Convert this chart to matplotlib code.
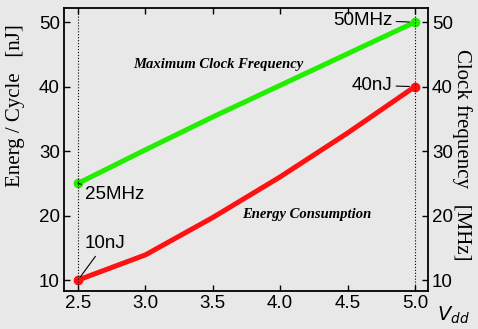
import numpy as np
import matplotlib.pyplot as plt

vdd = [2.5, 3.0, 3.5, 4.0, 4.5, 5.0]
energy = [10, 13.9, 19.7, 26.0, 32.8, 40]     # nJ
freq = [25, 30.2, 35.3, 40.2, 45.1, 50]       # MHz
xticks = [2.5, 3.0, 3.5, 4.0, 4.5, 5.0]
yticks = [10, 20, 30, 40, 50]

bg = '#e8e8e8'
plt.rcParams['font.family'] = ['Liberation Sans', 'DejaVu Sans']

fig = plt.figure(figsize=(4.78, 3.29), dpi=100, facecolor=bg)
ax = fig.add_axes([0.134, 0.1155, 0.761, 0.8602], facecolor=bg)

ax.plot(vdd, freq, color='#22ee00', lw=3.6, solid_capstyle='round')
ax.plot(vdd, energy, color='#ff1111', lw=3.6, solid_capstyle='round')
ax.plot([vdd[0], vdd[-1]], [freq[0], freq[-1]], 'o', color='#22ee00', ms=6)
ax.plot([vdd[0], vdd[-1]], [energy[0], energy[-1]], 'o', color='#ff1111', ms=6)

for xv in (vdd[0], vdd[-1]):
    ax.axvline(xv, color='black', lw=0.8, ls=':')

ax.set_xlim(2.396, 5.096)
ax.set_ylim(8.3, 52.2)
ax.set_xticks(xticks)
ax.set_xticklabels([f'{v:.1f}' for v in xticks])
ax.set_yticks(yticks)
ax.tick_params(direction='in', length=4, width=1, labelsize=13.5,
               top=True, right=True, labelright=True, pad=3)
for s in ax.spines.values():
    s.set_linewidth(1.3)

fig.text(0.032, 0.68, 'Energ / Cycle   [nJ]', family='Liberation Serif', fontsize=15,
         rotation=90, ha='center', va='center')
fig.text(0.967, 0.53, 'Clock frequency   [MHz]', family='Liberation Serif', fontsize=15,
         rotation=-90, ha='center', va='center')

fig.text(0.915, 0.025, r'$V_{dd}$', fontsize=14)

ann = dict(fontsize=13.5)
line = dict(arrowstyle='-', lw=0.8, color='black', shrinkA=1, shrinkB=4)
ax.annotate('50MHz', xy=(vdd[-1], freq[-1]), xytext=(4.83, 50.3), ha='right', va='center',
            arrowprops=line, **ann)
ax.annotate('40nJ', xy=(vdd[-1], energy[-1]), xytext=(4.83, 40.2), ha='right', va='center',
            arrowprops=line, **ann)
ax.annotate('25MHz', xy=(vdd[0], freq[0]), xytext=(2.555, 23.3), ha='left', va='center',
            arrowprops=dict(line, shrinkB=3), **ann)
ax.annotate('10nJ', xy=(vdd[0], energy[0]), xytext=(2.545, 15.6), ha='left', va='center',
            arrowprops=dict(line, shrinkB=3), **ann)

ax.text(3.54, 43.5, 'Maximum Clock Frequency', family='Liberation Serif', style='italic',
        weight='bold', fontsize=10.5, ha='center', va='center')
ax.text(4.20, 20.2, 'Energy Consumption', family='Liberation Serif', style='italic',
        weight='bold', fontsize=10.5, ha='center', va='center')

fig.savefig('out.png', dpi=100, facecolor=bg)
